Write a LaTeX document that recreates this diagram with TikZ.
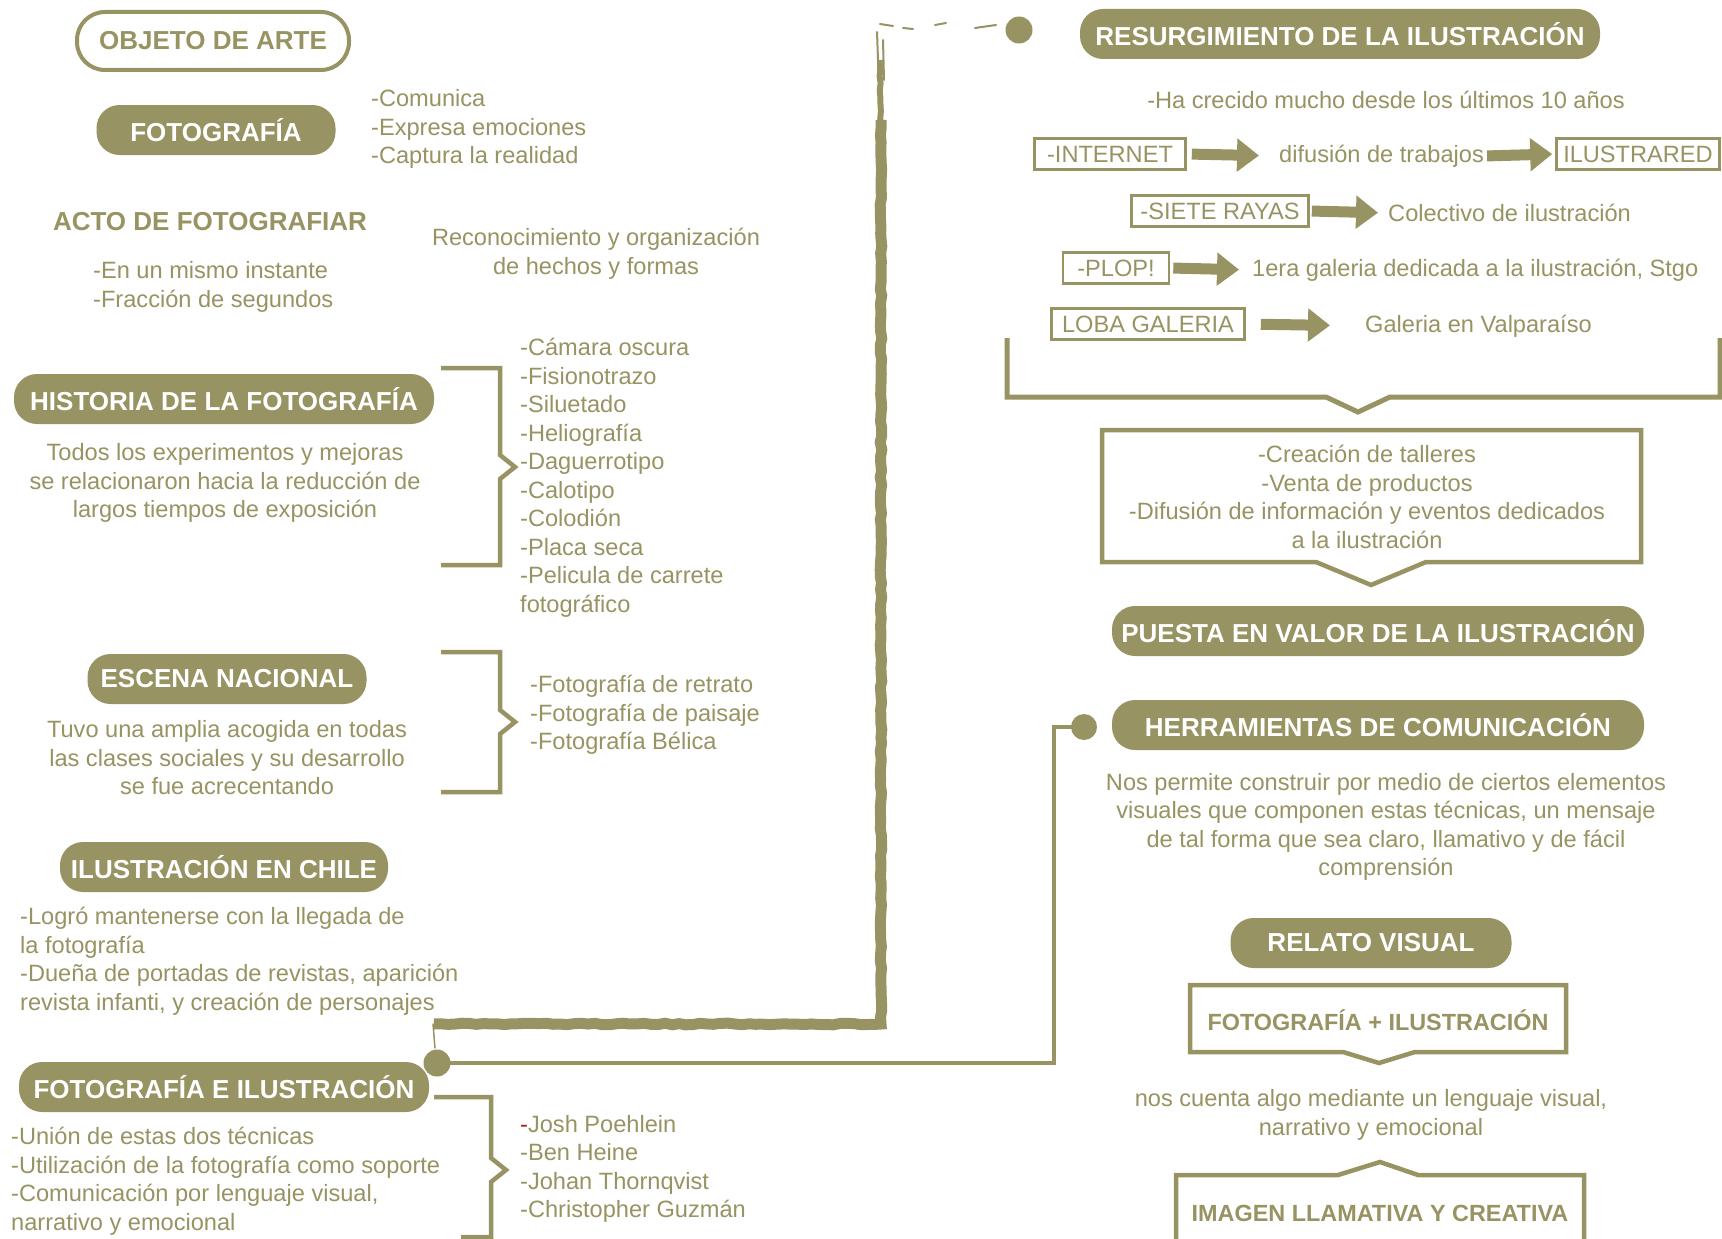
\documentclass[tikz,border=0pt]{standalone}
\usepackage{fontspec}
\setmainfont{Liberation Sans}
\usetikzlibrary{arrows.meta,decorations.pathmorphing,calc}
\definecolor{oliv}{RGB}{152,147,98}
\definecolor{darkred}{RGB}{170,30,30}
\newcommand{\regf}{\fontsize{23.6}{28.5}\selectfont}
\newcommand{\boldf}{\fontsize{26}{30}\selectfont\bfseries}
\newcommand{\boxf}{\fontsize{23.4}{28}\selectfont\bfseries}
\tikzset{
  txt/.style={text=oliv, inner sep=0pt, font=\regf, yshift=-2pt},
  head/.style={text=oliv, inner sep=0pt, font=\boldf},
  pill/.style={fill=oliv, text=white, rounded corners=23pt, minimum height=50pt, inner sep=0pt, font=\boldf},
  opill/.style={draw=oliv, line width=4pt, fill=white, text=oliv, rounded corners=28pt, minimum height=58pt, inner sep=0pt, font=\boldf},
  tbox/.style={draw=oliv, line width=2.6pt, text=oliv, minimum height=31pt, inner sep=0pt, font=\regf},
  barrow/.style={draw=oliv, line width=11pt, -{Triangle[length=22pt,width=32pt]}},
  brk/.style={draw=oliv, line width=4.5pt, miter limit=10},
  conn/.style={draw=oliv, line width=4.5pt},
  brush/.style={draw=oliv, line width=11pt, decorate, decoration={random steps, segment length=7pt, amplitude=0.8pt}},
  scrib/.style={draw=oliv, line width=2.5pt, line cap=round},
  dot/.style={circle, fill=oliv, minimum size=27pt, inner sep=0pt},
}
\begin{document}
\begin{tikzpicture}[x=1pt,y=-1pt]
\useasboundingbox[fill=white] (0,0) rectangle (1722,1239);
\pgfmathsetseed{7}

% ---------- brush line ----------
\draw[brush] (434,1024) -- (881,1024) -- (881,120);
\draw[brush, line width=6pt] (881,125) -- (880,60);
\draw[scrib, line width=2pt] (878,60) -- (877,32);
\draw[scrib, line width=2pt] (884,80) -- (883,40);
\draw[scrib, line width=1.5pt] (433,1024) -- (435,1048);
\draw[scrib, line width=2pt] (880,24) -- (893,26);
\draw[scrib, line width=2pt] (903,28) -- (913,29);
\draw[scrib, line width=2pt] (935,25) -- (946,23);
\draw[scrib, line width=2pt] (975,28) -- (996,25);

% ---------- dots and connector ----------
\node[dot] (dotT) at (1019,30) {};
\node[dot] (dotB) at (437,1063) {};
\node[dot, minimum size=26pt] (dotH) at (1084,727) {};
\coordinate (cH) at (1054,727);
\draw[conn] (dotB.center) -- (dotB.center -| cH) -- (cH) -- (dotH.center);

% ---------- left column ----------
\node[opill, minimum width=272pt] (obj) at (213,41) {OBJETO DE ARTE};
\node[pill, minimum width=239pt] (foto) at (216,130) {FOTOGRAFÍA};
\node[txt, anchor=west, align=left] (fotol) at (371,127) {-Comunica\\-Expresa emociones\\-Captura la realidad};
\node[head] (acto) at (210,222) {ACTO DE FOTOGRAFIAR};
\node[txt, anchor=west, align=left] (actol) at (93,285) {-En un mismo instante\\-Fracción de segundos};
\node[txt, align=center] (recon) at (596,252) {Reconocimiento y organización\\de hechos y formas};

\node[pill, minimum width=420pt] (hist) at (224,399) {HISTORIA DE LA FOTOGRAFÍA};
\node[txt, align=center] (histp) at (225,481) {Todos los experimentos y mejoras\\se relacionaron hacia la reducción de\\largos tiempos de exposición};
\draw[brk] (441,368) -- (500,368) -- (500,455) -- (515,467) -- (500,479) -- (500,565) -- (441,565);
\node[txt, anchor=west, align=left] (histl) at (520,476) {-Cámara oscura\\-Fisionotrazo\\-Siluetado\\-Heliografía\\-Daguerrotipo\\-Calotipo\\-Colodión\\-Placa seca\\-Pelicula de carrete\\fotográfico};

\node[pill, minimum width=279pt] (esc) at (227,679) {ESCENA NACIONAL};
\node[txt, align=center] (escp) at (227,756) {Tuvo una amplia acogida en todas\\las clases sociales y su desarrollo\\se fue acrecentando};
\draw[brk] (441,652) -- (500,652) -- (500,710) -- (515,722) -- (500,734) -- (500,792) -- (441,792);
\node[txt, anchor=west, align=left] (escl) at (530,713) {-Fotografía de retrato\\-Fotografía de paisaje\\-Fotografía Bélica};

\node[pill, minimum width=328pt] (chile) at (224,867) {ILUSTRACIÓN EN CHILE};
\node[txt, anchor=west, align=left] (chilel) at (20,959) {-Logró mantenerse con la llegada de\\la fotografía\\-Dueña de portadas de revistas, aparición\\revista infanti, y creación de personajes};

\node[pill, minimum width=410pt] (fei) at (224,1087) {FOTOGRAFÍA E ILUSTRACIÓN};
\node[txt, anchor=west, align=left] (feil) at (11,1179) {-Unión de estas dos técnicas\\-Utilización de la fotografía como soporte\\-Comunicación por lenguaje visual,\\narrativo y emocional};
\draw[brk] (434,1097) -- (491,1097) -- (491,1158) -- (506,1170) -- (491,1182) -- (491,1237) -- (461,1237);
\node[txt, anchor=west, align=left] (feir) at (520,1167) {{\color{darkred}-}Josh Poehlein\\-Ben Heine\\-Johan Thornqvist\\-Christopher Guzmán};

% ---------- right column ----------
\node[pill, minimum width=520pt] (res) at (1340,34) {RESURGIMIENTO DE LA ILUSTRACIÓN};
\node[txt] (crec) at (1386,98) {-Ha crecido mucho desde los últimos 10 años};

\node[tbox, minimum width=151pt] (inet) at (1110,154) {-INTERNET};
\node[txt, anchor=west] (difu) at (1279,154) {difusión de trabajos};
\node[tbox, minimum width=163pt] (ilus) at (1638,154) {ILUSTRARED};
\draw[barrow, shorten <=5pt, shorten >=20pt] (inet.east) -- (difu.west);
\draw[barrow, shorten <=3pt, shorten >=3pt] (difu.east) -- (ilus.west);

\node[tbox, minimum width=177pt] (siete) at (1220,211) {-SIETE RAYAS};
\node[txt, anchor=west] (colec) at (1388,211) {Colectivo de ilustración};
\draw[barrow, shorten <=2pt, shorten >=10pt] (siete.east) -- (colec.west);

\node[tbox, minimum width=106pt] (plop) at (1116,268) {-PLOP!};
\node[txt, anchor=west] (gal1) at (1252,268) {1era galeria dedicada a la ilustración, Stgo};
\draw[barrow, shorten <=3pt, shorten >=13pt] (plop.east) -- (gal1.west);

\node[tbox, minimum width=193pt] (loba) at (1148,324) {LOBA GALERIA};
\node[txt, anchor=west] (valp) at (1365,324) {Galeria en Valparaíso};
\draw[barrow, shorten <=15pt, shorten >=35pt] (loba.east) -- (valp.west);

\draw[brk, line width=5pt] (1007,338) -- (1007,397) -- (1326,397) -- (1358,412) -- (1390,397) -- (1720,397) -- (1720,338);

\draw[brk, line width=4.5pt] (1102,430) -- (1641,430) -- (1641,562) -- (1426,562) -- (1371,585) -- (1316,562) -- (1102,562) -- cycle;
\node[txt, align=center] (acts) at (1367,495) {-Creación de talleres\\-Venta de productos\\-Difusión de información y eventos dedicados\\a la ilustración};

\node[pill, minimum width=532pt] (puesta) at (1378,631) {PUESTA EN VALOR DE LA ILUSTRACIÓN};
\node[pill, minimum width=532pt] (herr) at (1378,725) {HERRAMIENTAS DE COMUNICACIÓN};
\node[txt, align=center] (herrp) at (1386,825) {Nos permite construir por medio de ciertos elementos\\visuales que componen estas técnicas, un mensaje\\de tal forma que sea claro, llamativo y de fácil\\comprensión};

\node[pill, minimum width=281pt] (relato) at (1371,943) {RELATO VISUAL};
\draw[brk, line width=4.5pt] (1190,985) -- (1566,985) -- (1566,1052) -- (1415,1052) -- (1379,1063) -- (1343,1052) -- (1190,1052) -- cycle;
\node[text=oliv, inner sep=0pt, font=\boxf] (fmi) at (1378,1020) {FOTOGRAFÍA + ILUSTRACIÓN};
\node[txt, align=center] (cuenta) at (1371,1113) {nos cuenta algo mediante un lenguaje visual,\\narrativo y emocional};
\draw[brk, line width=4.5pt] (1176,1250) -- (1176,1175) -- (1338,1175) -- (1380,1162) -- (1418,1175) -- (1584,1175) -- (1584,1250);
\node[text=oliv, inner sep=0pt, font=\boxf] (imag) at (1380,1213) {IMAGEN LLAMATIVA Y CREATIVA};
\end{tikzpicture}
\end{document}
